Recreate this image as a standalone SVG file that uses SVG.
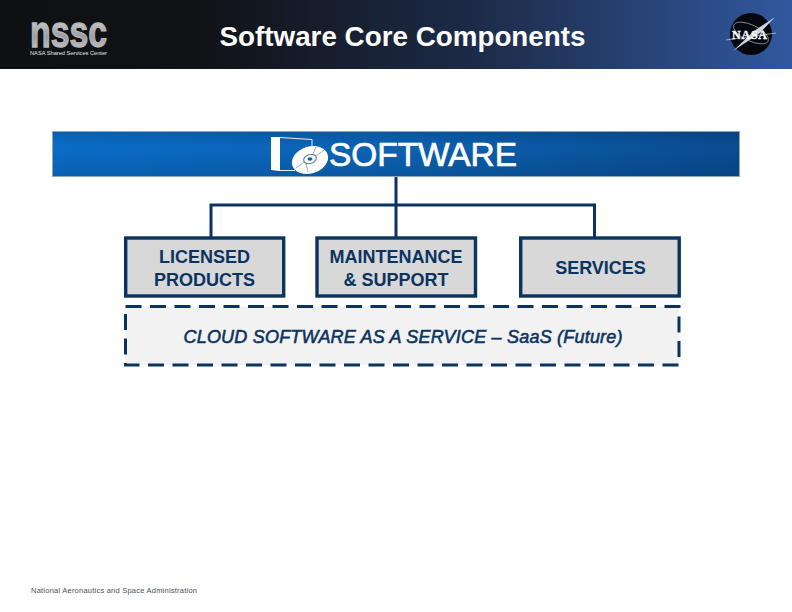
<svg xmlns="http://www.w3.org/2000/svg" width="792" height="612" viewBox="0 0 792 612">
<style>
text{font-family:"Liberation Sans",Arial,sans-serif}
.box{fill:#d8d8d8;stroke:#0b3360;stroke-width:3.4}
.lbl{font-size:18px;font-weight:700;fill:#0b3360;text-anchor:middle}
.conn{fill:none;stroke:#0b3360;stroke-width:3}
</style>
<defs>
<linearGradient id="hdr" x1="0" x2="1" y1="0" y2="0"><stop offset="0" stop-color="#0f1013"/><stop offset=".25" stop-color="#101216"/><stop offset=".6" stop-color="#1d2b48"/><stop offset="1" stop-color="#31589f"/></linearGradient>
<linearGradient id="bar" x1="0" x2="1" y1="0" y2="0"><stop offset="0" stop-color="#0a6dc9"/><stop offset=".5" stop-color="#0b62b4"/><stop offset="1" stop-color="#0a4c92"/></linearGradient>
<linearGradient id="shade" x1="0" x2="0" y1="0" y2="1"><stop offset="0" stop-color="#000" stop-opacity=".12"/><stop offset=".35" stop-color="#000" stop-opacity="0"/><stop offset="1" stop-color="#000" stop-opacity=".12"/></linearGradient>
<linearGradient id="metal" x1="0" x2="0" y1="0" y2="1"><stop offset="0" stop-color="#f4f4f4"/><stop offset=".6" stop-color="#9a9ca0"/><stop offset="1" stop-color="#dcdcdc"/></linearGradient>
</defs>
<rect width="792" height="612" fill="#fff"/>
<g id="header">
<rect width="792" height="69" fill="url(#hdr)"/>
<text x="402.500" y="46" font-size="28" font-weight="700" fill="#fff" text-anchor="middle" textLength="366" lengthAdjust="spacingAndGlyphs">Software Core Components</text>
</g>
<g id="nssc-logo">
<text x="30" y="47" font-size="45" font-weight="700" fill="url(#metal)" stroke="#b5b7ba" stroke-width="1.300" textLength="77" lengthAdjust="spacingAndGlyphs">nssc</text>
<text x="30" y="55" font-size="5.500" fill="#e8e8e8" textLength="77" lengthAdjust="spacingAndGlyphs">NASA Shared Services Center</text>
</g>
<g id="nasa-logo">
<circle cx="751" cy="34" r="21" fill="#05070f"/>
<ellipse cx="751" cy="33" rx="19" ry="8" fill="none" stroke="#9aa" stroke-width=".7" transform="rotate(25 751 33)"/>
<path d="M733 51 L760 33 L775 17 L754 31 Z" fill="#cfd3da"/>
<path d="M726 40 L776 33" stroke="#cfd3da" stroke-width=".7"/>
<text x="749.500" y="38.500" font-size="12" font-weight="700" fill="#fff" stroke="#fff" stroke-width=".3" text-anchor="middle" style="font-family:'Liberation Serif',serif" textLength="35" lengthAdjust="spacing">NASA</text>
</g>
<g id="connectors">
<path class="conn" d="M396 177V237M211 237V205H594.500V237"/>
</g>
<g id="software">
<rect x="52.500" y="131.500" width="687" height="45" fill="url(#bar)" stroke="#8fa9b8"/>
<rect x="53" y="132" width="686" height="44" fill="url(#shade)"/>
<g id="software-icon">
<path d="M271 137L280 137V171L271 170Z" fill="#fff"/>
<path d="M280 137.500L312 139.500V150M280 170.500H295" fill="none" stroke="#e8eef5" stroke-width="1"/>
<ellipse cx="310" cy="160" rx="18.500" ry="13.500" fill="#fff" transform="rotate(-18 310 160)"/>
<ellipse cx="310" cy="159" rx="6.500" ry="4.500" fill="none" stroke="#6f8294" stroke-width="1.200" transform="rotate(-18 310 159)"/>
<ellipse cx="310" cy="159" rx="2.500" ry="1.700" fill="#0b62b4"/>
<path d="M296 168L304 162M316 156L324 150M306 164L308 172M313 154L316 147" stroke="#8a9aaa" stroke-width=".8"/>
</g>
<text x="423" y="166" font-size="33.500" fill="#fff" stroke="#fff" stroke-width=".7" text-anchor="middle" textLength="188" lengthAdjust="spacingAndGlyphs">SOFTWARE</text>
</g>
<g id="licensed">
<rect class="box" x="125.700" y="238" width="158" height="58"/>
<text class="lbl" x="204.500" y="263">LICENSED</text>
<text class="lbl" x="204.500" y="286">PRODUCTS</text>
</g>
<g id="maintenance">
<rect class="box" x="317" y="238" width="158.500" height="58"/>
<text class="lbl" x="396" y="263">MAINTENANCE</text>
<text class="lbl" x="396" y="286">&amp; SUPPORT</text>
</g>
<g id="services">
<rect class="box" x="520.700" y="238" width="158.500" height="58"/>
<text class="lbl" x="600.500" y="274">SERVICES</text>
</g>
<g id="saas">
<rect x="125.500" y="306.500" width="553.500" height="58.500" fill="#f2f2f2" stroke="#0b3360" stroke-width="3" stroke-dasharray="16 8.500"/>
<text x="403" y="343" font-size="18" font-style="italic" fill="#0b3360" stroke="#0b3360" stroke-width=".55" text-anchor="middle" textLength="439" lengthAdjust="spacing">CLOUD SOFTWARE AS A SERVICE – SaaS (Future)</text>
</g>
<g id="footer">
<text x="31" y="593" font-size="7.500" fill="#4a4f58" textLength="166" lengthAdjust="spacing">National Aeronautics and Space Administration</text>
</g>
</svg>
